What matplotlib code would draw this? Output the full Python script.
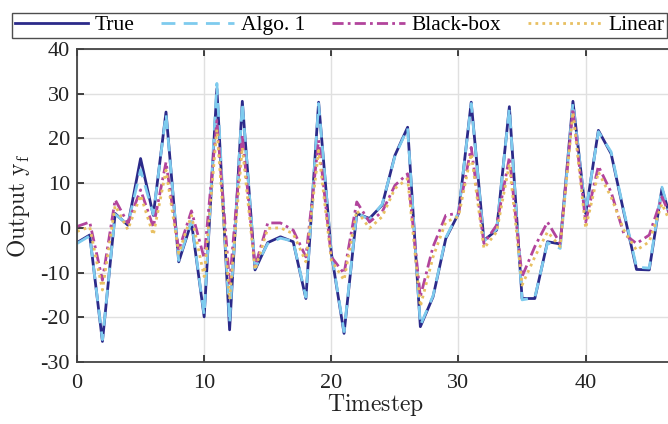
import numpy as np
import matplotlib
matplotlib.use("Agg")
import matplotlib.pyplot as plt

plt.rcParams['font.family'] = ['Liberation Serif', 'DejaVu Serif']
plt.rcParams['mathtext.fontset'] = 'cm'

timestep = list(range(0, 48))
true_y = [-3.3, -1.6, -25.4, 3.2, 0.6, 15.5, 2.8, 25.9, -7.6, 1.3,
          -19.9, 31.1, -22.8, 28.3, -9.4, -3.3, -2.0, -3.1, -15.8, 28.1,
          -5.7, -23.6, 3.2, 2.1, 5.1, 16.2, 22.5, -22.1, -15.4, -2.4,
          3.2, 28.1, -2.8, -0.5, 27.1, -15.8, -15.8, -3.1, -3.6, 28.3,
          3.2, 21.8, 16.6, 3.5, -9.3, -9.4, 8.8, -1.0]
algo1_y = [-3.5, -1.8, -25.0, 3.0, 0.8, 13.0, 3.0, 25.5, -7.3, 1.5,
           -19.5, 32.3, -21.3, 28.0, -9.0, -3.5, -2.3, -3.0, -15.5, 27.8,
           -5.5, -23.2, 3.4, 1.8, 5.3, 16.0, 22.3, -21.8, -15.2, -2.2,
           3.4, 27.8, -3.0, -0.3, 26.8, -16.1, -15.6, -3.3, -4.6, 28.0,
           3.4, 21.5, 17.0, 3.8, -8.8, -9.0, 9.1, -0.8]
blackbox_y = [0.3, 1.3, -11.7, 6.3, 1.0, 8.5, 0.2, 14.7, -5.0, 3.8,
              -6.8, 24.0, -12.4, 20.7, -8.7, 1.1, 1.1, -0.5, -6.5, 19.6,
              -6.5, -10.2, 5.8, 1.3, 3.6, 9.5, 12.1, -15.4, -4.2, 2.8,
              3.3, 18.0, -3.5, 0.6, 15.8, -10.9, -4.2, 1.3, -3.5, 26.6,
              1.3, 13.8, 8.0, -1.3, -3.5, -1.6, 6.9, 0.5]
linear_y = [-0.8, 0.2, -13.9, 5.0, -0.4, 7.3, -1.6, 12.9, -5.7, 2.8,
            -10.9, 22.0, -16.0, 18.0, -9.4, -0.1, 0.0, -1.3, -7.6, 17.3,
            -7.2, -11.7, 3.9, -0.1, 2.5, 8.8, 11.0, -17.6, -6.5, 1.3,
            2.5, 16.6, -4.6, -0.9, 14.3, -12.8, -6.5, -0.9, -4.2, 25.9,
            -0.1, 12.5, 6.9, -0.5, -5.0, -3.1, 5.4, -1.0]

series_labels = ['True', 'Algo. 1', 'Black-box', 'Linear']
x_ticks = [0, 10, 20, 30, 40]
y_ticks = [-30, -20, -10, 0, 10, 20, 30, 40]

fig = plt.figure(figsize=(6.68, 4.24), dpi=100)
ax = fig.add_axes([77 / 668, 1 - 362 / 424, 1 - 77 / 668 + 0.01, (362 - 49) / 424])

l1, = ax.plot(timestep, true_y, color='#2b2a8a', lw=2.0, ls='-', label=series_labels[0])
l2, = ax.plot(timestep, algo1_y, color='#7ecbee', lw=2.0, ls=(0, (5, 3)), label=series_labels[1])
l3, = ax.plot(timestep, blackbox_y, color='#b2449c', lw=2.0, ls=(0, (4, 1.5, 1, 1.5)), label=series_labels[2])
l4, = ax.plot(timestep, linear_y, color='#e8c062', lw=2.0, ls=(0, (1, 1.5)), label=series_labels[3])

ax.set_xlim(0, 47)
ax.set_ylim(-30, 40)
ax.set_xticks(x_ticks)
ax.set_yticks(y_ticks)
ax.set_yticklabels([str(v) for v in y_ticks])
ax.grid(True, color='#e0e0e0', lw=1.0)
ax.set_axisbelow(True)
ax.tick_params(direction='in', top=True, right=False, labelsize=16, length=5, width=1.2,
               colors='#222222')
ax.tick_params(axis='x', pad=9)
ax.tick_params(axis='y', pad=5)
for sp in ['top', 'left', 'bottom']:
    ax.spines[sp].set_color('#444444')
    ax.spines[sp].set_linewidth(1.3)
ax.spines['right'].set_visible(False)

ax.set_xlabel(r'$\mathrm{Timestep}$', fontsize=17, labelpad=-1, color='#222222')
ax.set_ylabel(r'$\mathrm{Output\ y}_{\mathrm{f}}$', fontsize=17, labelpad=6, color='#222222')

leg = fig.legend(handles=[l1, l2, l3, l4], loc='lower left',
                 bbox_to_anchor=(12 / 668, 1 - 38 / 424, 1 - 12 / 668 - 0.002, 30 / 424),
                 mode='expand', ncol=4, fontsize=15.5, frameon=True, fancybox=False,
                 edgecolor='#222222', handlelength=3.4, borderpad=0.12, borderaxespad=0,
                 handletextpad=0.3)
leg.get_frame().set_linewidth(1.0)

fig.savefig('out.png', dpi=100)
